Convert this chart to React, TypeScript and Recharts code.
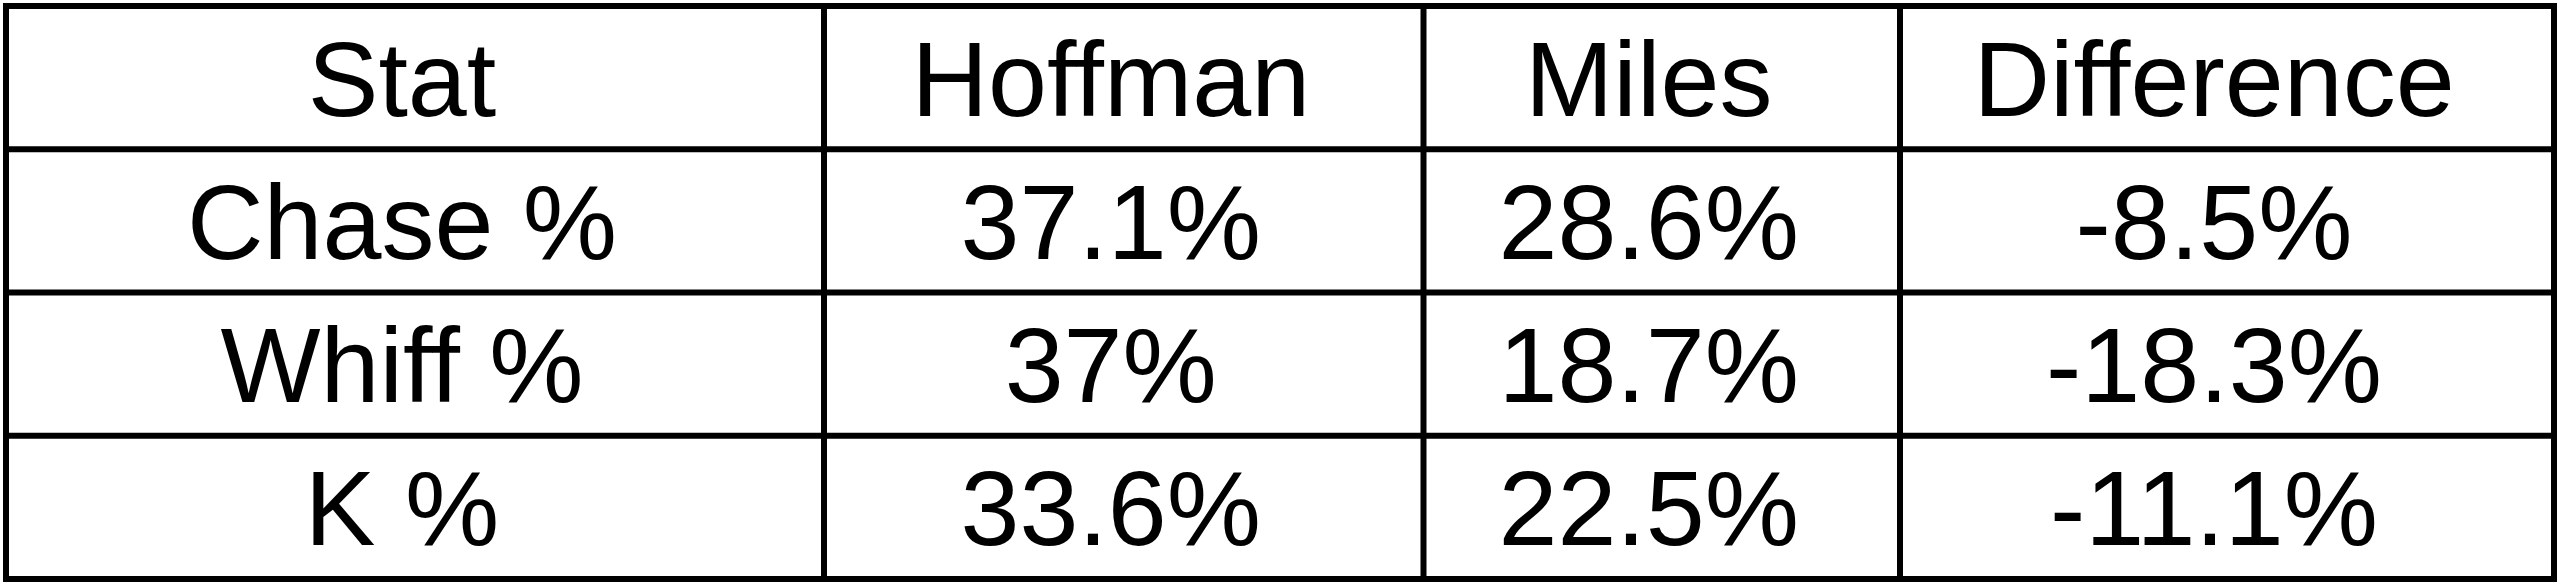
import { ScatterChart, Scatter, XAxis, YAxis, ReferenceLine, ReferenceArea } from "recharts";

const HEADERS = ["Stat", "Hoffman", "Miles", "Difference"];
const STATS = ["Chase %", "Whiff %", "K %"];
const HOFFMAN = ["37.1%", "37%", "33.6%"];
const MILES = ["28.6%", "18.7%", "22.5%"];
const DIFFERENCE = ["-8.5%", "-18.3%", "-11.1%"];

// layout: column boundaries along the x axis (px from the table's left border)
const COL_EDGES = [0, 818, 1417.5, 1894, 2548];
const ROW_COUNT = 4;

const rows = [HEADERS, ...STATS.map((s, i) => [s, HOFFMAN[i], MILES[i], DIFFERENCE[i]])];

const cells = rows.flatMap((row, r) =>
    row.map((label, c) => ({
        x: (COL_EDGES[c] + COL_EDGES[c + 1]) / 2,
        y: r + 0.5,
        label,
    }))
);

const CellText = (props: any) => {
    const { cx, cy, payload } = props;
    return (
        <text
            x={cx - 13}
            y={cy + 38}
            textAnchor="middle"
            fontSize={106}
            fontFamily="'Liberation Sans', Arial, sans-serif"
            fill="#000"
        >
            {payload.label}
        </text>
    );
};

export default function App() {
    return (
        <div style={{ width: 2560, height: 584, background: "#fff" }}>
            <style>{"body{margin:0;background:#fff}"}</style>
            <ScatterChart width={2560} height={584} margin={{ top: 6, right: 6, bottom: 5, left: 6 }}>
                <XAxis type="number" dataKey="x" domain={[0, COL_EDGES[COL_EDGES.length - 1]]} hide />
                <YAxis type="number" dataKey="y" domain={[0, ROW_COUNT]} reversed hide />
                {COL_EDGES.slice(1, -1).map((e) => (
                    <ReferenceLine key={`c-${e}`} x={e} stroke="#000" strokeWidth={6} />
                ))}
                {Array.from({ length: ROW_COUNT - 1 }, (_, i) => i + 1).map((r) => (
                    <ReferenceLine key={`r-${r}`} y={r} stroke="#000" strokeWidth={6} />
                ))}
                <ReferenceArea
                    x1={0}
                    x2={COL_EDGES[COL_EDGES.length - 1]}
                    y1={0}
                    y2={ROW_COUNT}
                    fill="none"
                    fillOpacity={0}
                    stroke="#000"
                    strokeWidth={6}
                    strokeOpacity={1}
                />
                <Scatter data={cells} shape={<CellText />} isAnimationActive={false} />
            </ScatterChart>
        </div>
    );
}
